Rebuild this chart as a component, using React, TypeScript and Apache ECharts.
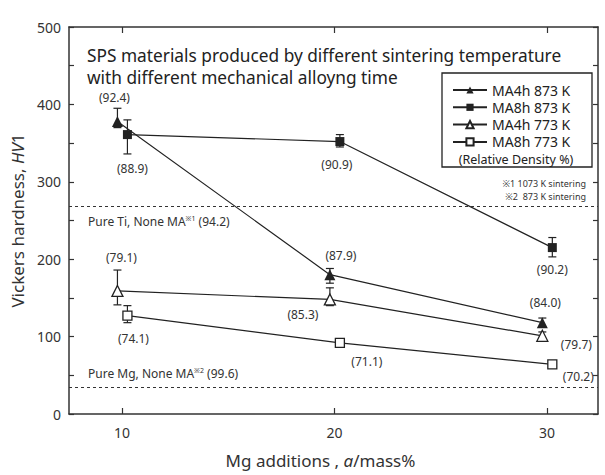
import React, { useEffect, useRef } from "react";
import * as echarts from "echarts";

// Mg content of the sintered compacts (mass%)
const mgAdditions = [10, 20, 30];

// Vickers hardness HV1
const ma4h873 = [378, 180, 118];
const ma8h873 = [361, 352, 215];
const ma4h773 = [159, 148, 101];
const ma8h773 = [127, 92, 64];

// Scatter of the measurements [low, high]
const ma4h873Err = [[370, 395], [169, 188], [112, 124]];
const ma8h873Err = [[336, 380], [345, 361], [203, 228]];
const ma4h773Err = [[141, 186], [140, 163], [96, 106]];
const ma8h773Err = [[118, 140], null, null];

// Relative density (%)
const ma4h873Density = [92.4, 87.9, 84.0];
const ma8h873Density = [88.9, 90.9, 90.2];
const ma4h773Density = [79.1, 85.3, 79.7];
const ma8h773Density = [74.1, 71.1, 70.2];

// Reference hardness of the unalloyed metals
const pureTiHardness = 269;
const pureMgHardness = 35;

const FONT = '"Noto Sans", "Noto Sans CJK JP", sans-serif';
const INK = "#222";
const TEXT = "#333";

type SeriesDef = {
  name: string;
  values: number[];
  err: (number[] | null)[];
  density: number[];
  symbol: string;
  size: number;
  filled: boolean;
  shift: number;
  labelOffsets: number[][];
};

const seriesDefs: SeriesDef[] = [
  {
    name: "MA4h 873 K",
    values: ma4h873,
    err: ma4h873Err,
    density: ma4h873Density,
    symbol: "triangle",
    size: 11,
    filled: true,
    shift: -0.22,
    labelOffsets: [[-3, -24], [11, -19], [3, -20]],
  },
  {
    name: "MA8h 873 K",
    values: ma8h873,
    err: ma8h873Err,
    density: ma8h873Density,
    symbol: "rect",
    size: 9,
    filled: true,
    shift: 0.25,
    labelOffsets: [[5, 34], [-3, 23], [0, 22]],
  },
  {
    name: "MA4h 773 K",
    values: ma4h773,
    err: ma4h773Err,
    density: ma4h773Density,
    symbol: "triangle",
    size: 11,
    filled: false,
    shift: -0.22,
    labelOffsets: [[4, -33], [-27, 15], [34, 9]],
  },
  {
    name: "MA8h 773 K",
    values: ma8h773,
    err: ma8h773Err,
    density: ma8h773Density,
    symbol: "rect",
    size: 9,
    filled: false,
    shift: 0.25,
    labelOffsets: [[6, 23], [27, 19], [26, 12]],
  },
];

function buildOption(): echarts.EChartsOption {
  const refLabel = (text: string, position: string, distance: number[]) => ({
    show: true,
    position,
    distance,
    formatter: text,
    color: TEXT,
    fontSize: 12,
    fontFamily: FONT,
    rich: {
      sup: { fontSize: 7, fontFamily: FONT, color: TEXT, padding: [0, 0, 7, 0] },
    },
  });

  const lineSeries: any[] = seriesDefs.map((d, si) => ({
    type: "line",
    name: d.name,
    symbol: d.symbol,
    symbolSize: d.size,
    z: 3,
    lineStyle: { color: INK, width: 1.2 },
    itemStyle: {
      color: d.filled ? INK : "#fff",
      borderColor: INK,
      borderWidth: d.filled ? 0 : 1.3,
    },
    data: d.values.map((v, i) => ({
      value: [mgAdditions[i] + d.shift, v],
      label: {
        show: true,
        position: "inside",
        offset: d.labelOffsets[i],
        formatter: `(${d.density[i].toFixed(1)})`,
        color: TEXT,
        fontSize: 12,
        fontFamily: FONT,
      },
    })),
    markLine:
      si === 0
        ? {
            silent: true,
            symbol: "none",
            lineStyle: { color: TEXT, type: [3, 3], width: 1.2 },
            data: [
              {
                yAxis: pureTiHardness,
                label: refLabel("Pure Ti, None MA{sup|※1} (94.2)", "insideStartBottom", [19, 9]),
              },
              {
                yAxis: pureMgHardness,
                label: refLabel("Pure Mg, None MA{sup|※2} (99.6)", "insideStartTop", [19, 6]),
              },
            ],
          }
        : undefined,
  }));

  const errorSeries: any[] = seriesDefs.map((d) => ({
    type: "custom",
    name: d.name + " err",
    z: 2,
    silent: true,
    renderItem: (_p: any, api: any) => {
      const x = api.value(0);
      const lo = api.coord([x, api.value(1)]);
      const hi = api.coord([x, api.value(2)]);
      const cap = 4;
      const style = { stroke: INK, lineWidth: 1.2 };
      return {
        type: "group",
        children: [
          { type: "line", shape: { x1: lo[0], y1: lo[1], x2: hi[0], y2: hi[1] }, style },
          { type: "line", shape: { x1: lo[0] - cap, y1: lo[1], x2: lo[0] + cap, y2: lo[1] }, style },
          { type: "line", shape: { x1: hi[0] - cap, y1: hi[1], x2: hi[0] + cap, y2: hi[1] }, style },
        ],
      };
    },
    data: d.err
      .map((e, i) => (e ? [mgAdditions[i] + d.shift, e[0], e[1]] : null))
      .filter((e) => e !== null),
  }));

  const axisLine = { show: true, onZero: false, lineStyle: { color: TEXT, width: 1.5 } };

  return {
    animation: false,
    backgroundColor: "#fff",
    textStyle: { fontFamily: FONT },
    title: {
      text: "SPS materials produced by different sintering temperature\nwith different mechanical alloyng time",
      left: 82,
      top: 39,
      textStyle: { fontSize: 17.3, lineHeight: 22, fontWeight: "normal", color: INK, fontFamily: FONT },
    },
    grid: { left: 69, right: 7, top: 27, bottom: 61, outerBoundsMode: "none", containLabel: false },
    legend: {
      orient: "vertical",
      left: 447,
      top: 78,
      itemWidth: 34,
      itemHeight: 9,
      itemGap: 3.3,
      textStyle: { fontSize: 14, lineHeight: 14, color: INK, fontFamily: FONT },
      data: seriesDefs.map((d) => d.name),
    },
    xAxis: [
      {
        type: "value",
        min: 7.5,
        max: 32.4,
        position: "bottom",
        axisLine,
        splitLine: { show: false },
        axisTick: { show: true, inside: true, length: 6, customValues: mgAdditions, lineStyle: { color: TEXT, width: 1.2 } },
        axisLabel: { customValues: mgAdditions, fontSize: 14, color: TEXT, margin: 11, fontFamily: FONT },
        name: "Mg additions , {i|a}/mass%",
        nameLocation: "middle",
        nameGap: 38,
        nameTextStyle: {
          fontSize: 17,
          color: TEXT,
          fontFamily: FONT,
          padding: [0, 26, 0, 0],
          rich: { i: { fontSize: 17, fontStyle: "italic", color: TEXT, fontFamily: FONT } },
        },
      },
      {
        type: "value",
        min: 7.5,
        max: 32.4,
        position: "top",
        axisLine,
        splitLine: { show: false },
        axisTick: { show: true, inside: true, length: 6, customValues: mgAdditions, lineStyle: { color: TEXT, width: 1.2 } },
        axisLabel: { show: false },
      },
    ],
    yAxis: [
      {
        type: "value",
        min: 0,
        max: 500,
        interval: 50,
        position: "left",
        axisLine,
        splitLine: { show: false },
        axisTick: { show: true, inside: true, length: 5, lineStyle: { color: TEXT, width: 1.2 } },
        axisLabel: {
          formatter: (v: number) => (v % 100 === 0 ? String(v) : ""),
          fontSize: 14,
          color: TEXT,
          margin: 8,
          fontFamily: FONT,
        },
        name: "Vickers hardness, {i|HV}1",
        nameLocation: "middle",
        nameGap: 42,
        nameTextStyle: {
          fontSize: 17,
          color: TEXT,
          fontFamily: FONT,
          rich: { i: { fontSize: 17, fontStyle: "italic", color: TEXT, fontFamily: FONT } },
        },
      },
      {
        type: "value",
        min: 0,
        max: 500,
        interval: 50,
        position: "right",
        axisLine,
        splitLine: { show: false },
        axisTick: { show: true, inside: true, length: 5, lineStyle: { color: TEXT, width: 1.2 } },
        axisLabel: { show: false },
      },
    ],
    graphic: [
      {
        type: "rect",
        shape: { x: 442, y: 73, width: 150, height: 94 },
        style: { fill: "transparent", stroke: INK, lineWidth: 1.3 },
        z: 10,
      },
      {
        type: "text",
        x: 516,
        y: 159.5,
        style: {
          text: "(Relative Density %)",
          fill: INK,
          fontSize: 12.5,
          fontFamily: FONT,
          align: "center",
          verticalAlign: "middle",
        },
        z: 10,
      },
      {
        type: "text",
        x: 586,
        y: 183,
        style: {
          text: "※1 1073 K sintering",
          fill: TEXT,
          fontSize: 9,
          fontFamily: FONT,
          align: "right",
          verticalAlign: "middle",
        },
        z: 10,
      },
      {
        type: "text",
        x: 586,
        y: 196,
        style: {
          text: "※2  873 K sintering",
          fill: TEXT,
          fontSize: 9,
          fontFamily: FONT,
          align: "right",
          verticalAlign: "middle",
        },
        z: 10,
      },
    ],
    series: [...errorSeries, ...lineSeries],
  } as any;
}

export default function App() {
  const ref = useRef<HTMLDivElement>(null);
  useEffect(() => {
    if (!ref.current) return;
    const chart = echarts.init(ref.current, null, { renderer: "svg" });
    chart.setOption(buildOption());
    return () => chart.dispose();
  }, []);
  return <div ref={ref} style={{ width: 605, height: 475, position: "absolute", left: 0, top: 0 }} />;
}
